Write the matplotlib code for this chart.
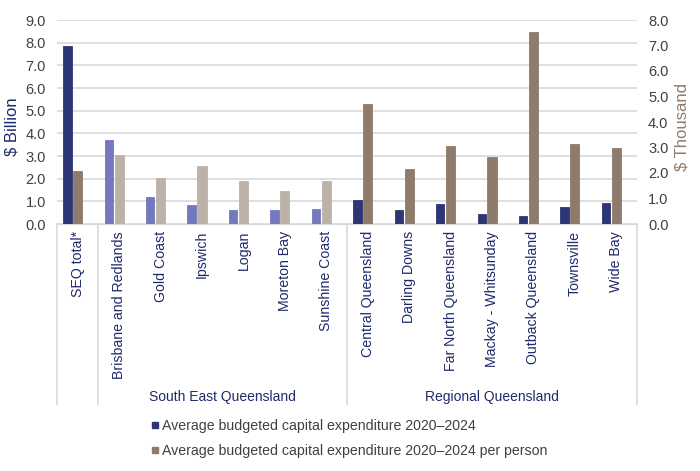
import matplotlib
matplotlib.use('Agg')
import matplotlib.pyplot as plt
from matplotlib.lines import Line2D

plt.rcParams['font.family'] = ['Liberation Sans', 'DejaVu Sans']

# Categories and values
categories = ['SEQ total*', 'Brisbane and Redlands', 'Gold Coast', 'Ipswich', 'Logan',
              'Moreton Bay', 'Sunshine Coast', 'Central Queensland', 'Darling Downs',
              'Far North Queensland', 'Mackay - Whitsunday', 'Outback Queensland',
              'Townsville', 'Wide Bay']
capex_billion = [7.86, 3.69, 1.17, 0.85, 0.60, 0.63, 0.68,
                 1.07, 0.62, 0.87, 0.46, 0.34, 0.73, 0.93]
capex_per_person = [2.09, 2.72, 1.80, 2.28, 1.68, 1.31, 1.70,
                    4.71, 2.17, 3.07, 2.64, 7.51, 3.13, 2.98]
group_names = ['South East Queensland', 'Regional Queensland']
group_spans = [(1, 6), (7, 13)]

navy = '#2E3575'
brown = '#8E7B6B'
light_blue = '#7479BF'
light_brown = '#BDB2A7'
tick_grey = '#404040'
label_navy = '#1F2A6B'

# SEQ councils get the lighter colours
seq_councils = range(1, 7)
blue_colors = [light_blue if i in seq_councils else navy for i in range(len(categories))]
brown_colors = [light_brown if i in seq_councils else brown for i in range(len(categories))]

fig = plt.figure(figsize=(7, 4.71), dpi=100)
ax = fig.add_axes([57 / 700, 1 - 224 / 471, 580 / 700, 204 / 471])
ax2 = ax.twinx()

x = list(range(len(categories)))
ax.bar([i - 0.25 for i in x], capex_billion, width=0.2, color=blue_colors,
       edgecolor=blue_colors, linewidth=0.6, zorder=3)
ax2.bar([i for i in x], capex_per_person, width=0.22, color=brown_colors,
        edgecolor=brown_colors, linewidth=0.6, zorder=3)

ax.set_xlim(-0.5, len(categories) - 0.5)
ax.set_ylim(0, 9)
ax2.set_ylim(0, 8)
ax.set_yticks(range(0, 10))
ax2.set_yticks(range(0, 9))
ax.set_yticklabels([f'{v:.1f}' for v in range(0, 10)])
ax2.set_yticklabels([f'{v:.1f}' for v in range(0, 9)])
ax.yaxis.grid(True, color='#D9D9D9', linewidth=1.2, zorder=0)
ax.set_axisbelow(True)

for a in (ax, ax2):
    for s in a.spines.values():
        s.set_visible(False)
    a.tick_params(axis='y', length=0, labelsize=10.5, colors=tick_grey, pad=8)
ax.spines['bottom'].set_visible(True)
ax.spines['bottom'].set_color('#D9D9D9')

ax.set_xticks(x)
ax.set_xticklabels(categories, rotation=90, fontsize=10.2, color=label_navy, va='top')
ax.tick_params(axis='x', length=0, pad=5)

ax.set_ylabel('$ Billion', color=label_navy, fontsize=12, va='center', ha='center')
ax.yaxis.set_label_coords((12 - 57) / 580, 0.475)
ax2.set_ylabel('$ Thousand', color=brown, fontsize=12, va='center', ha='center')
ax2.yaxis.set_label_coords((682 - 57) / 580, 0.475)

# category separators and group labels below the axis
sep_depth = -(404 - 224) / 204
for b in [-0.5, 0.5, 6.5, 13.5]:
    ax.plot([b, b], [0, sep_depth], transform=ax.get_xaxis_transform(),
            color='#D9D9D9', linewidth=1.2, clip_on=False)
for name, (a, b) in zip(group_names, group_spans):
    ax.text((a + b) / 2, -(397 - 224) / 204, name, transform=ax.get_xaxis_transform(),
            ha='center', va='center', fontsize=10, color=label_navy)

handles = [Line2D([], [], marker='s', linestyle='none', markersize=5, color=navy),
           Line2D([], [], marker='s', linestyle='none', markersize=5, color=brown)]
labels = ['Average budgeted capital expenditure 2020\u20132024',
          'Average budgeted capital expenditure 2020\u20132024 per person']
fig.legend(handles, labels, loc='upper left', bbox_to_anchor=(151 / 700, 1 - 419 / 471),
           frameon=False, fontsize=10.2, handlelength=0.5, handletextpad=0.25,
           labelspacing=0.75, borderaxespad=0, borderpad=0, labelcolor='#404040')

fig.savefig('out.png', dpi=100)
